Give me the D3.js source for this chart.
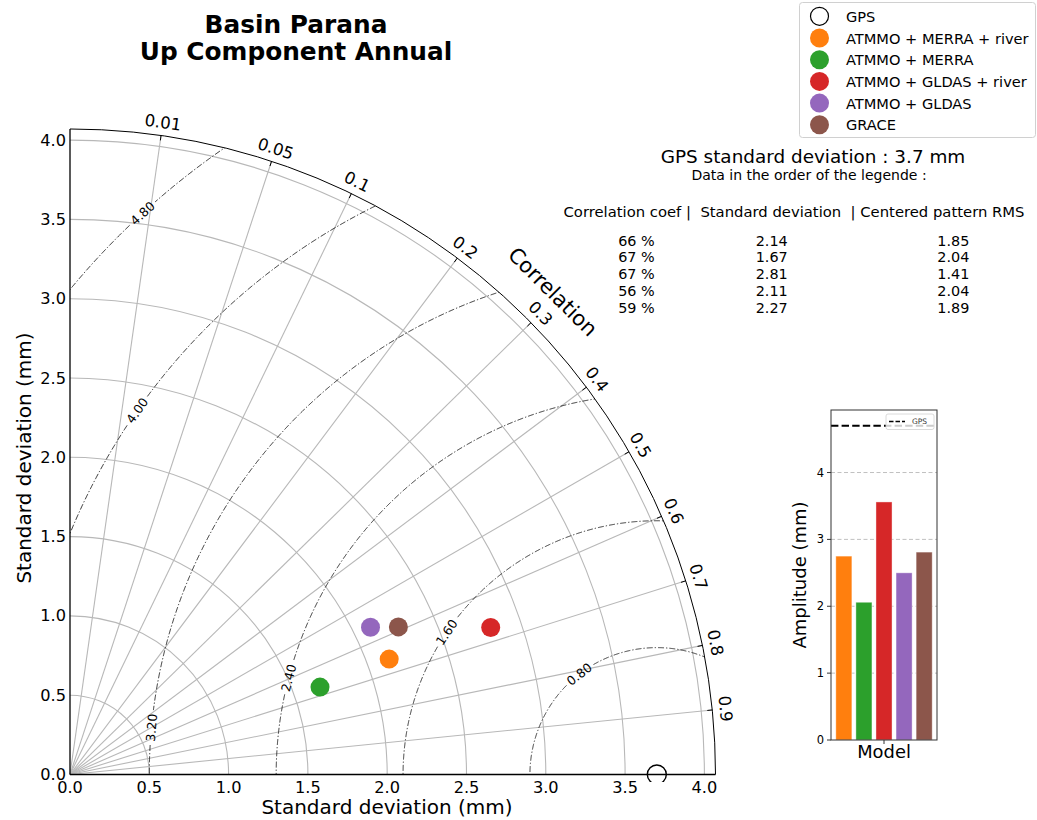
<!DOCTYPE html>
<html><head><meta charset="utf-8">
<script src="https://cdn.jsdelivr.net/npm/d3@7"></script>
<style>body{margin:0;background:#fff;overflow:hidden} svg{font-family:"DejaVu Sans",sans-serif;display:block}</style>
</head><body><svg id="c" width="1037" height="820"></svg>
<script>
// ---------------- data ----------------
const titleLines = ["Basin Parana", "Up Component Annual"];
const models = ["ATMMO + MERRA + river", "ATMMO + MERRA", "ATMMO + GLDAS + river", "ATMMO + GLDAS", "GRACE"];
const modelColors = ["#ff7f0e", "#2ca02c", "#d62728", "#9467bd", "#8c564b"];
const corrValues = [0.66, 0.67, 0.67, 0.56, 0.59];
const stdValues = [2.14, 1.67, 2.81, 2.11, 2.27];
const rmsValues = [1.85, 2.04, 1.41, 2.04, 1.89];
const amplitudeValues = [2.75, 2.06, 3.56, 2.50, 2.81];
const gpsStd = 3.7;
const gpsAmplitude = 4.7;
const corrTicks = [0.01, 0.05, 0.1, 0.2, 0.3, 0.4, 0.5, 0.6, 0.7, 0.8, 0.9];
const stdTicks = [0, 0.5, 1.0, 1.5, 2.0, 2.5, 3.0, 3.5, 4.0];
const rmsLevels = [0.8, 1.6, 2.4, 3.2, 4.0, 4.8];
const ampTicks = [0, 1, 2, 3, 4];

// ---------------- layout ----------------
const svg = d3.select("#c");
const smax = gpsStd * 1.1;
const k = 158.6, x0 = 70, y0 = 774.5;
const R = smax * k;
const xs = d3.scaleLinear().domain([0, smax]).range([x0, x0 + R]);
const ys = d3.scaleLinear().domain([0, smax]).range([y0, y0 - R]);
const rs = d3.scaleLinear().domain([0, smax]).range([0, R]);
const ang = c => Math.asin(1 - c);          // angular position used by the diagram
const P = (r, t) => [x0 + rs(r) * Math.cos(t), y0 - rs(r) * Math.sin(t)];
const rmsLabelPhi = [127.7, 145.9, 165.3, 174.7, 145, 132.5];

const defs = svg.append("defs");
defs.append("clipPath").attr("id", "wedge")
  .append("path").attr("d", `M${x0},${y0} L${x0 + R},${y0} A${R},${R} 0 0 0 ${x0},${y0 - R} Z`);
defs.append("clipPath").attr("id", "refclip")
  .append("rect").attr("x", x0).attr("y", y0 - R - 5).attr("width", R + 5).attr("height", R + 12.5);

// grid
const grid = svg.append("g").attr("fill", "none").attr("stroke", "#b8b8b8").attr("stroke-width", 1.1);
stdTicks.filter(s => s > 0).forEach(s => {
  grid.append("path").attr("d", `M${xs(s)},${y0} A${rs(s)},${rs(s)} 0 0 0 ${x0},${ys(s)}`);
});
corrTicks.forEach(c => {
  const p = P(smax, ang(c));
  grid.append("line").attr("x1", x0).attr("y1", y0).attr("x2", p[0]).attr("y2", p[1]);
});

// RMS contours
const cont = svg.append("g").attr("clip-path", "url(#wedge)");
const labG = svg.append("g");
rmsLevels.forEach((L, i) => {
  const phi = rmsLabelPhi[i] * Math.PI / 180;
  const lx = xs(gpsStd + L * Math.cos(phi)), ly = ys(L * Math.sin(phi));
  const rot = -(rmsLabelPhi[i] - 90);
  const t = labG.append("text").attr("x", lx).attr("y", ly)
    .attr("transform", `rotate(${rot},${lx},${ly})`)
    .attr("text-anchor", "middle").attr("dominant-baseline", "central")
    .attr("font-size", 12.5).attr("fill", "#000").text(L.toFixed(2));
  const w = t.node().getComputedTextLength();
  const gap = (w / 2 + 3) / rs(L);
  const line = d3.line().defined(p => Math.abs(p - phi) > gap)
    .x(p => xs(gpsStd + L * Math.cos(p))).y(p => ys(L * Math.sin(p)));
  cont.append("path").attr("d", line(d3.range(0, 2001).map(j => j * Math.PI / 2000)))
    .attr("fill", "none").attr("stroke", "#000").attr("stroke-width", 0.8)
    .attr("stroke-dasharray", "6,2,1.3,2");
});

// frame
const fr = svg.append("g").attr("fill", "none").attr("stroke", "#000");
fr.append("path").attr("d", `M${x0 + R},${y0} A${R},${R} 0 0 0 ${x0},${y0 - R}`).attr("stroke-width", 1);
fr.append("line").attr("x1", x0).attr("y1", y0).attr("x2", x0 + R).attr("y2", y0).attr("stroke-width", 1.3);
fr.append("line").attr("x1", x0).attr("y1", y0).attr("x2", x0).attr("y2", y0 - R).attr("stroke-width", 1.3);

// correlation ticks and labels
corrTicks.forEach(c => {
  const t = ang(c);
  const a = P(smax, t), b = P(smax - 5 / k, t);
  fr.append("line").attr("x1", a[0]).attr("y1", a[1]).attr("x2", b[0]).attr("y2", b[1]).attr("stroke-width", 1);
  const lp = P(smax + 13 / k, t);
  const rot = 90 - t * 180 / Math.PI;
  svg.append("text").attr("x", lp[0]).attr("y", lp[1])
    .attr("transform", `rotate(${rot},${lp[0]},${lp[1]})`)
    .attr("text-anchor", "middle").attr("dominant-baseline", "central")
    .attr("font-size", 16.5).text(String(c));
});
{
  const lp = P(smax + 37 / k, Math.PI / 4);
  svg.append("text").attr("x", lp[0]).attr("y", lp[1])
    .attr("transform", `rotate(45,${lp[0]},${lp[1]})`)
    .attr("text-anchor", "middle").attr("dominant-baseline", "central")
    .attr("font-size", 21).text("Correlation");
}

// std axes labels
stdTicks.forEach(s => {
  svg.append("text").attr("x", xs(s)).attr("y", y0 + 13).attr("text-anchor", "middle")
    .attr("dominant-baseline", "central").attr("font-size", 16.2).text(s.toFixed(1));
  svg.append("text").attr("x", x0 - 4).attr("y", ys(s)).attr("text-anchor", "end")
    .attr("dominant-baseline", "central").attr("font-size", 16.2).text(s.toFixed(1));
});
svg.append("text").attr("x", 387).attr("y", 814).attr("text-anchor", "middle")
  .attr("font-size", 20).text("Standard deviation (mm)");
svg.append("text").attr("transform", "translate(31,458) rotate(-90)").attr("text-anchor", "middle")
  .attr("font-size", 20).text("Standard deviation (mm)");

// points
svg.append("circle").attr("clip-path", "url(#refclip)")
  .attr("cx", xs(gpsStd)).attr("cy", y0).attr("r", 9.5)
  .attr("fill", "none").attr("stroke", "#000").attr("stroke-width", 1.4);
const pts = svg.append("g").attr("clip-path", "url(#wedge)");
models.forEach((m, i) => {
  const p = P(stdValues[i], ang(corrValues[i]));
  pts.append("circle").attr("cx", p[0]).attr("cy", p[1]).attr("r", 9.5).attr("fill", modelColors[i]);
});

// title
titleLines.forEach((t, i) => {
  svg.append("text").attr("x", 296).attr("y", 32.5 + i * 27.5).attr("text-anchor", "middle")
    .attr("font-size", 24.8).attr("font-weight", "bold").text(t);
});

// legend
const lg = svg.append("g");
lg.append("rect").attr("x", 799.5).attr("y", 2.5).attr("width", 236).attr("height", 135).attr("rx", 3)
  .attr("fill", "#fff").attr("stroke", "#d0d0d0");
const legNames = ["GPS"].concat(models);
legNames.forEach((n, i) => {
  const y = 16.3 + i * 21.7;
  if (i === 0) lg.append("circle").attr("cx", 819.5).attr("cy", y).attr("r", 9).attr("fill", "#fff").attr("stroke", "#000").attr("stroke-width", 1.2);
  else lg.append("circle").attr("cx", 819.5).attr("cy", y).attr("r", 9.5).attr("fill", modelColors[i - 1]);
  lg.append("text").attr("x", 846).attr("y", y).attr("dominant-baseline", "central").attr("font-size", 14.6).text(n);
});

// stats text
svg.append("text").attr("x", 813).attr("y", 163).attr("text-anchor", "middle").attr("font-size", 18.4)
  .text(`GPS standard deviation : ${gpsStd} mm`);
svg.append("text").attr("x", 809).attr("y", 180).attr("text-anchor", "middle").attr("font-size", 14)
  .text("Data in the order of the legende :");
const hdr = svg.append("text").attr("x", 563.5).attr("y", 217).attr("font-size", 14)
  .style("white-space", "pre").text("Correlation coef |  Standard deviation  | Centered pattern RMS");
{
  const w = hdr.node().getComputedTextLength();
  hdr.attr("font-size", 14 * 461.5 / w);
}
models.forEach((m, i) => {
  const y = 245.5 + i * 16.9;
  svg.append("text").attr("x", 636.5).attr("y", y).attr("text-anchor", "middle").attr("font-size", 14.4)
    .text(Math.round(corrValues[i] * 100) + " %");
  svg.append("text").attr("x", 771.7).attr("y", y).attr("text-anchor", "middle").attr("font-size", 14.4)
    .text(stdValues[i].toFixed(2));
  svg.append("text").attr("x", 953.3).attr("y", y).attr("text-anchor", "middle").attr("font-size", 14.4)
    .text(rmsValues[i].toFixed(2));
});

// ---------------- bar chart ----------------
const bx0 = 831, bx1 = 937, by0 = 740, by1 = 410;
const bxs = d3.scaleLinear().domain([-0.64, models.length - 1 + 0.64]).range([bx0, bx1]);
const bys = d3.scaleLinear().domain([0, gpsAmplitude * 1.05]).range([by0, by1]);
const bg = svg.append("g");
ampTicks.filter(v => v > 0).forEach(v => {
  bg.append("line").attr("x1", bx0).attr("x2", bx1).attr("y1", bys(v)).attr("y2", bys(v))
    .attr("stroke", "#b0b0b0").attr("stroke-opacity", 0.8).attr("stroke-dasharray", "4,2.5").attr("stroke-width", 1);
});
amplitudeValues.forEach((v, i) => {
  bg.append("rect").attr("x", bxs(i - 0.4)).attr("width", bxs(0.4) - bxs(-0.4))
    .attr("y", bys(v)).attr("height", bys(0) - bys(v)).attr("fill", modelColors[i])
    .attr("stroke", "#fff").attr("stroke-opacity", 0.5).attr("stroke-width", 0.8);
});
bg.append("line").attr("x1", bx0).attr("x2", bx1).attr("y1", bys(gpsAmplitude)).attr("y2", bys(gpsAmplitude))
  .attr("stroke", "#000").attr("stroke-width", 2).attr("stroke-dasharray", "7.4,3.2");
bg.append("rect").attr("x", bx0).attr("y", by1).attr("width", bx1 - bx0).attr("height", by0 - by1)
  .attr("fill", "none").attr("stroke", "#333").attr("stroke-width", 1);
ampTicks.forEach(v => {
  bg.append("line").attr("x1", bx0 - 4).attr("x2", bx0).attr("y1", bys(v)).attr("y2", bys(v)).attr("stroke", "#333");
  bg.append("text").attr("x", bx0 - 7).attr("y", bys(v)).attr("text-anchor", "end")
    .attr("dominant-baseline", "central").attr("font-size", 11.5).text(v);
});
const midX = bxs((models.length - 1) / 2);
bg.append("line").attr("x1", midX).attr("x2", midX).attr("y1", by0).attr("y2", by0 + 4).attr("stroke", "#333");
bg.append("text").attr("x", midX).attr("y", 758).attr("text-anchor", "middle").attr("font-size", 17.9).text("Model");
bg.append("text").attr("transform", "translate(806,575) rotate(-90)").attr("text-anchor", "middle")
  .attr("font-size", 18).text("Amplitude (mm)");
// mini legend
bg.append("rect").attr("x", 886).attr("y", 414).attr("width", 48).attr("height", 15.5).attr("rx", 2)
  .attr("fill", "#fff").attr("fill-opacity", 0.8).attr("stroke", "#d0d0d0").attr("stroke-width", 0.8);
bg.append("line").attr("x1", 889).attr("x2", 905).attr("y1", 421.5).attr("y2", 421.5)
  .attr("stroke", "#000").attr("stroke-width", 1.5).attr("stroke-dasharray", "4.5,2");
bg.append("text").attr("x", 912).attr("y", 421.5).attr("dominant-baseline", "central").attr("font-size", 7.5)
  .attr("fill", "#333").text("GPS");
</script></body></html>
